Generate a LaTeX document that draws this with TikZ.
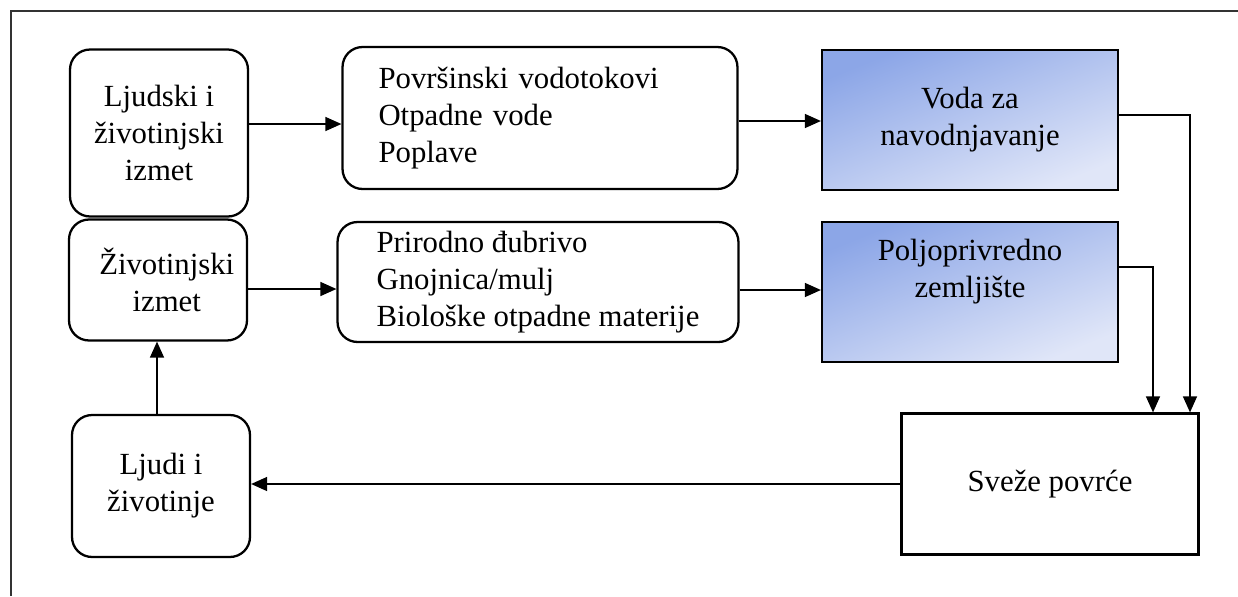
\documentclass[tikz,border=0pt]{standalone}
\usepackage{fontspec}
\setmainfont{Liberation Serif}
\usepackage{tikz}
\usetikzlibrary{arrows.meta, positioning, calc}

\definecolor{shadeDark}{RGB}{140,166,231}
\definecolor{shadeLight}{RGB}{224,230,248}

\begin{document}
\begin{tikzpicture}[x=0.02cm, y=-0.02cm]

  \useasboundingbox (0,0) rectangle (1238,596);

  %% Styles
  \tikzset{
    txt/.style={font=\fontsize{17.5}{21}\selectfont},
    rbox/.style={txt, draw, line width=1.3pt, rounded corners=0.4cm, align=center},
    lbox/.style={rbox, align=left},
    sbox/.style={txt, draw, line width=1.3pt, align=center,
      top color=shadeDark, bottom color=shadeLight, shading angle=22},
    pbox/.style={txt, draw, line width=1.3pt, align=center},
    arr/.style={line width=0.8pt, -{Triangle[length=0.32cm, width=0.28cm]}}
  }

  %% Outer frame (only top and left edges are in view)
  \draw[line width=1pt, black!80] (11,596) -- (11,11) -- (1238,11);

  %% Left column
  \node[rbox, minimum width=3.56cm, minimum height=3.34cm] (izmetA) at (159,133)
    {Ljudski i\\životinjski\\izmet};
  \node[rbox, minimum width=3.56cm, minimum height=2.42cm] (izmetB) at (158,280)
    {\hspace*{0.35cm}Životinjski\\\hspace*{0.35cm}izmet};
  \node[rbox, minimum width=3.56cm, minimum height=2.84cm] (ljudi) at (161,486)
    {Ljudi i\\životinje};

  %% Middle column
  \node[lbox, text width=6.46cm, inner xsep=0.72cm, minimum height=2.84cm] (izvori) at (540,118)
    {Površinski vodotokovi\\Otpadne vode\\Poplave};
  \node[lbox, minimum width=8.02cm, minimum height=2.4cm] (djubrivo) at (538,282)
    {Prirodno đubrivo\\Gnojnica/mulj\\Biološke otpadne materije};

  %% Right column
  \node[sbox, minimum width=5.92cm, minimum height=2.8cm] (voda) at (970,120)
    {Voda za\\navodnjavanje};
  \node[sbox, minimum width=5.92cm, minimum height=2.8cm, text depth=0.95cm] (zemlja) at (970,292)
    {Poljoprivredno\\zemljište};
  \node[pbox, minimum width=5.94cm, minimum height=2.82cm] (povrce) at (1050,484)
    {Sveže povrće};

  %% Connectors
  \draw[arr] (izmetA.east |- 0,124) -- (izvori.west |- 0,124);
  \draw[arr] (izvori.east |- 0,121) -- (voda.west |- 0,121);
  \draw[arr] (izmetB.east |- 0,289) -- (djubrivo.west |- 0,289);
  \draw[arr] (djubrivo.east |- 0,290) -- (zemlja.west |- 0,290);
  \draw[arr] (voda.east |- 0,115) -| (povrce.north -| 1190,0);
  \draw[arr] (zemlja.east |- 0,267) -| (povrce.north -| 1153,0);
  \draw[arr] (povrce.west) -- (povrce.west -| ljudi.east);
  \draw[arr] (ljudi.north -| 157,0) -- (izmetB.south -| 157,0);

\end{tikzpicture}
\end{document}
